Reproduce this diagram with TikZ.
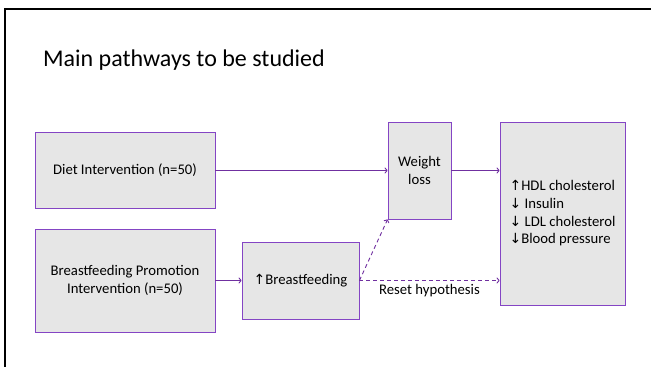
\documentclass[tikz,border=0pt]{standalone}
\usepackage{fontspec}
\setmainfont{Carlito}
\newfontfamily\arrowfont{DejaVu Sans}
\usetikzlibrary{arrows.meta}
\definecolor{boxpurple}{HTML}{8445C4}
\definecolor{linepurple}{HTML}{7030A0}
\definecolor{boxgray}{HTML}{E6E6E6}
\newcommand{\upa}{{\arrowfont\fontsize{14}{14}\selectfont ↑}}
\newcommand{\dna}{{\arrowfont\fontsize{14}{14}\selectfont ↓}}
\begin{document}
\begin{tikzpicture}[x=1pt,y=-1pt,
  boxnode/.style={draw=boxpurple, line width=0.9pt, fill=boxgray, inner sep=0pt,
    font=\fontsize{14.7}{17.7}\selectfont, align=center},
  conn/.style={draw=linepurple, line width=0.9pt, -{To[length=3pt,width=6pt]}},
  dconn/.style={conn, dashed, dash pattern=on 4pt off 3pt}]
\useasboundingbox (0,0) rectangle (651,367);
\begin{scope}
\clip (0,0) rectangle (651,367);
\draw[line width=2pt, black] (5,380) -- (5,9) -- (660,9);
\end{scope}
\node[anchor=base west, font=\fontsize{24}{29}\selectfont, inner sep=0pt] (title) at (43,66) {Main pathways to be studied};
\node[boxnode, minimum width=180pt, minimum height=76pt] (diet) at (125,170.5) {Diet Intervention (n=50)};
\node[boxnode, minimum width=180pt, minimum height=103pt] (bfp) at (125,280.5) {Breastfeeding Promotion\\Intervention (n=50)};
\node[boxnode, minimum width=117pt, minimum height=77pt] (bf) at (300.5,280.5) {\upa Breastfeeding};
\node[boxnode, minimum width=63pt, minimum height=97pt] (wl) at (419.5,170.5) {Weight\\loss};
\node[boxnode, minimum width=125pt, minimum height=183pt, align=left] (out) at (562.5,213.5) {\upa HDL cholesterol\\\dna{} Insulin\\\dna{} LDL cholesterol\\\dna Blood pressure};
\draw[conn] (diet.east) -- (wl.west);
\draw[conn] (wl.east) -- (wl.east -| out.west);
\draw[conn] (bfp.east) -- (bf.west);
\draw[dconn] (bf.east) -- (wl.south west);
\draw[dconn] (bf.east) -- node[below=3pt, font=\fontsize{14.7}{17.7}\selectfont, inner sep=0pt] (reset) {Reset hypothesis} (bf.east -| out.west);
\end{tikzpicture}
\end{document}
